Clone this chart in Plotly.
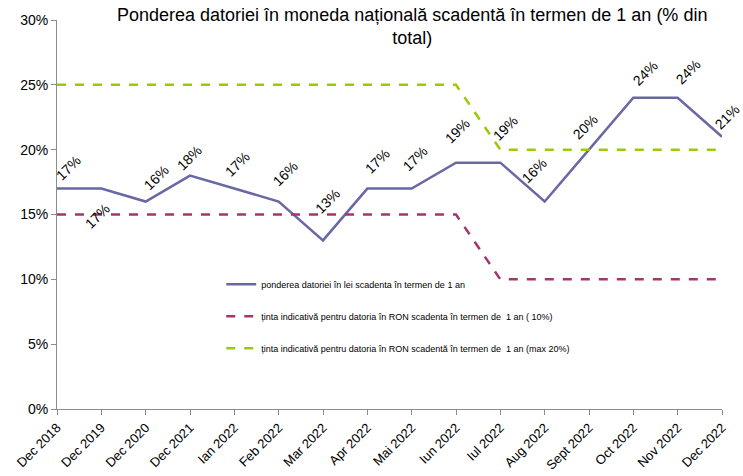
"""Ponderea datoriei in moneda nationala scadenta in termen de 1 an."""

import plotly.graph_objects as go

categories = [
    "Dec 2018", "Dec 2019", "Dec 2020", "Dec 2021", "Ian 2022", "Feb 2022",
    "Mar 2022", "Apr 2022", "Mai 2022", "Iun 2022", "Iul 2022", "Aug 2022",
    "Sept 2022", "Oct 2022", "Nov 2022", "Dec 2022",
]
pondere = [17, 17, 16, 18, 17, 16, 13, 17, 17, 19, 19, 16, 20, 24, 24, 21]
tinta_min = [15, 15, 15, 15, 15, 15, 15, 15, 15, 15, 10, 10, 10, 10, 10, 10]
tinta_max = [25, 25, 25, 25, 25, 25, 25, 25, 25, 25, 20, 20, 20, 20, 20, 20]

# pixel offsets of the rotated data labels (x right, y up)
label_shift = [
    (11, 21), (-4, -27), (10, 24), (-1, 18), (3, 25), (6, 28), (5, 39), (10, 28),
    (3, 30), (1, 32), (5, 35), (-11, 31), (-4, 23), (12, 25), (10, 26), (5, 20),
]

FONT = "Liberation Sans, Arial, sans-serif"

fig = go.Figure()

fig.add_trace(
    go.Scatter(
        x=categories,
        y=pondere,
        mode="lines",
        line={"color": "#6a68a4", "width": 2.5},
        name="ponderea datoriei în lei scadenta în termen de 1 an",
        legendgroup="a",
    )
)
fig.add_trace(
    go.Scatter(
        x=categories,
        y=tinta_min,
        mode="lines",
        line={"color": "#a3376c", "width": 2.5, "dash": "dash"},
        name="ținta indicativă pentru datoria în RON scadenta în termen de  1 an ( 10%)",
        legendgroup="b",
    )
)
fig.add_trace(
    go.Scatter(
        x=categories,
        y=tinta_max,
        mode="lines",
        line={"color": "#99cc00", "width": 2.5, "dash": "dash"},
        name="ținta indicativă pentru datoria în RON scadentă în termen de  1 an (max 20%)",
        legendgroup="c",
    )
)

for cat, val, (dx, dy) in zip(categories, pondere, label_shift):
    fig.add_annotation(
        x=cat,
        y=val,
        text=f"{val}%",
        showarrow=False,
        textangle=-45,
        xshift=dx,
        yshift=dy,
        font={"size": 14, "color": "black", "family": FONT},
    )

# title drawn as an annotation so it can overlap the top of the plot area
fig.add_annotation(
    text="Ponderea datoriei în moneda națională scadentă în termen de 1 an (% din<br>total)",
    xref="paper",
    yref="paper",
    x=0.534,
    y=1.043,
    xanchor="center",
    yanchor="top",
    showarrow=False,
    font={"size": 18, "color": "black", "family": FONT},
)

fig.update_layout(
    width=743,
    height=476,
    template="plotly_white",
    paper_bgcolor="white",
    plot_bgcolor="white",
    font={"family": FONT, "color": "black"},
    margin={"l": 57, "r": 21, "t": 20, "b": 67, "autoexpand": False},
    showlegend=True,
    legend={
        "x": 0.247,
        "y": 0.358,
        "xanchor": "left",
        "yanchor": "top",
        "bgcolor": "rgba(0,0,0,0)",
        "font": {"size": 9, "color": "black"},
        "tracegroupgap": 13,
        "itemwidth": 30,
    },
)
fig.update_xaxes(
    type="category",
    range=[0, len(categories) - 1],
    automargin=False,
    showgrid=False,
    showline=True,
    linecolor="#8c8c8c",
    linewidth=1,
    ticks="outside",
    tickcolor="#8c8c8c",
    ticklen=5,
    tickangle=-45,
    tickfont={"size": 13, "color": "black"},
    zeroline=False,
)
fig.update_yaxes(
    range=[0, 30],
    dtick=5,
    ticksuffix="%",
    automargin=False,
    showgrid=False,
    showline=True,
    linecolor="#8c8c8c",
    linewidth=1,
    ticks="outside",
    tickcolor="#8c8c8c",
    ticklen=5,
    tickfont={"size": 14, "color": "black"},
    zeroline=False,
)

# drop the default page margin so the figure sits at the window's corner
fig.write_html(
    "out.html",
    config={"displayModeBar": False},
    post_script="document.body.style.margin = '0';",
)
